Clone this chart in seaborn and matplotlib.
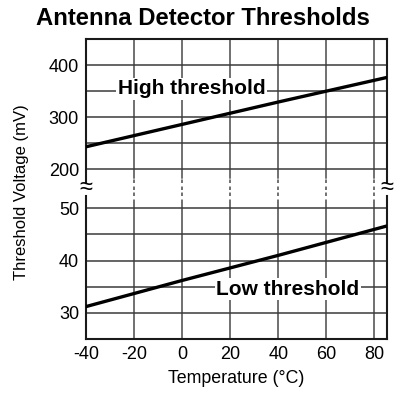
import matplotlib
matplotlib.use("Agg")
import matplotlib.pyplot as plt
import seaborn as sns
import pandas as pd

# Threshold voltages versus temperature
temp_c = [-40, 0, 40, 85]
high_mv = [243, 286, 329, 376]
low_mv = [31.2, 36.2, 41.0, 46.6]

x_ticks = [-40, -20, 0, 20, 40, 60, 80]
grid_x = [-20, 0, 20, 40, 60, 80]
high_ticks = [200, 300, 400]
high_grid = [200, 250, 300, 350, 400]
low_ticks = [30, 40, 50]
low_grid = [30, 35, 40, 45, 50]

sns.set_theme(style="white")
plt.rcParams["font.family"] = ["Liberation Sans", "DejaVu Sans"]

W, H = 394, 396
fig = plt.figure(figsize=(W / 100, H / 100), dpi=100)

left, right = 86 / W, 386.5 / W
y_top, y_break, y_bot = 39, 190, 339
ax_hi = fig.add_axes([left, 1 - y_break / H, right - left, (y_break - y_top) / H])
ax_lo = fig.add_axes([left, 1 - y_bot / H, right - left, (y_bot - y_break) / H])

XLIM = (-40, 85)
ax_hi.set_ylim(160, 450)
ax_lo.set_ylim(25, 53.5)

vgrid_col = "#707070"
hgrid_col = "#3a3a3a"
spine_col = "#1a1a1a"
dash = (0, (1.8, 1.8))

# fraction of each panel height where solid vertical grid gives way to dashes
hi_cut = (y_break - 178) / (y_break - y_top)
lo_cut = (y_bot - 203) / (y_bot - y_break)

for ax in (ax_hi, ax_lo):
    ax.set_xlim(*XLIM)
    ax.set_facecolor("white")
    ax.grid(False)
    for s in ax.spines.values():
        s.set_color(spine_col)
        s.set_linewidth(1.5)
    ax.tick_params(axis="both", length=0, pad=5, labelsize=13, colors="black")

for gx in grid_x:
    ax_hi.axvline(gx, ymin=hi_cut, ymax=1, color=vgrid_col, lw=1.4, zorder=1)
    ax_hi.axvline(gx, ymin=0, ymax=hi_cut, color=vgrid_col, lw=1.4, ls=dash, zorder=1)
    ax_lo.axvline(gx, ymin=0, ymax=lo_cut, color=vgrid_col, lw=1.4, zorder=1)
    ax_lo.axvline(gx, ymin=lo_cut, ymax=1, color=vgrid_col, lw=1.4, ls=dash, zorder=1)

for gy in high_grid:
    ax_hi.axhline(gy, color=hgrid_col, lw=1.1, zorder=1)
for gy in low_grid:
    ax_lo.axhline(gy, color=hgrid_col, lw=1.1, zorder=1)

df = pd.DataFrame({"temp": temp_c, "high": high_mv, "low": low_mv})
sns.lineplot(data=df, x="temp", y="high", ax=ax_hi, color="black", lw=2.4, zorder=3)
sns.lineplot(data=df, x="temp", y="low", ax=ax_lo, color="black", lw=2.4, zorder=3)

# broken-axis spines
ax_hi.spines["bottom"].set_visible(False)
ax_lo.spines["top"].set_visible(False)
for side in ("left", "right"):
    ax_hi.spines[side].set_bounds(173.7, 450)
    ax_lo.spines[side].set_bounds(25, 52.4)

ax_hi.set_yticks(high_ticks)
ax_lo.set_yticks(low_ticks)
ax_hi.set_xticks(x_ticks)
ax_hi.tick_params(axis="x", labelbottom=False)
ax_lo.set_xticks(x_ticks)
ax_lo.set_xticklabels([str(v) for v in x_ticks])
ax_hi.set_xlabel("")
ax_hi.set_ylabel("")
ax_lo.set_ylabel("")
ax_lo.set_xlabel("Temperature (°C)", fontsize=12.8, color="black", labelpad=5)

fig.text(21.5 / W, 1 - 192.5 / H, "Threshold Voltage (mV)", rotation=90,
         ha="center", va="center", fontsize=12, color="black")

for xp in (86, 386.5):
    fig.text(xp / W, 1 - 188 / H, "≈", ha="center", va="center",
             fontsize=17, color="black")

box = dict(facecolor="white", edgecolor="none", pad=1.0)
ax_hi.text(3.9, 354, "High threshold", ha="center", va="center",
           fontsize=15, fontweight="bold", color="black", bbox=box, zorder=4)
ax_lo.text(43.9, 34.5, "Low threshold", ha="center", va="center",
           fontsize=15, fontweight="bold", color="black", bbox=box, zorder=4)

fig.text(203 / W, 1 - 25 / H, "Antenna Detector Thresholds", ha="center",
         va="baseline", fontsize=17.2, fontweight="bold", color="black")

fig.savefig("out.png", dpi=100)
